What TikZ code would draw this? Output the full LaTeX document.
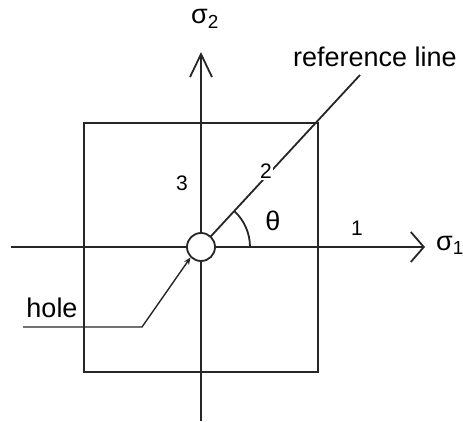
\documentclass[tikz,border=0pt]{standalone}
\usepackage{fontspec}
\setmainfont{Liberation Sans}
\usetikzlibrary{arrows.meta}
\begin{document}
\begin{tikzpicture}[x=1pt,y=1pt,
  ln/.style={draw=black!85, line width=1.8pt},
  lbl/.style={font=\fontsize{27}{30}\selectfont, anchor=base, inner sep=0pt},
  num/.style={font=\fontsize{21}{24}\selectfont, anchor=base, inner sep=1pt, fill=white},
  holec/.style={circle, draw=black!85, line width=1.8pt, fill=white, minimum size=28pt, inner sep=0pt}]
\useasboundingbox (0,0) rectangle (463,421);
\coordinate (ctr) at (201,174);
\coordinate (xl) at (11,174);
\coordinate (xr) at (425,174);
\coordinate (yb) at (201,0);
\coordinate (yt) at (201,369);
\coordinate (refend) at (360,346);
\draw[ln] (84,49) rectangle (318,298);
\draw[ln, -{Straight Barb[length=13pt,width=30pt,line width=1.8pt]}] (xl) -- (xr);
\draw[ln, -{Straight Barb[length=23pt,width=22pt,line width=1.8pt]}] (yb) -- (yt);
\draw[ln] (ctr) -- (refend);
\draw[ln] ([shift={(0:49)}]ctr) arc[start angle=0, end angle=47, radius=49];
\node[holec] (hc) at (ctr) {};
\node[num] (n2) at (266,242) {2};
\node[num] (n3) at (182,230) {3};
\node[num] (n1) at (357,186) {1};
\node[lbl] (th) at (273,191) {θ};
\node[lbl] (s2) at (205,397) {σ\textsubscript{2}};
\node[lbl] (s1) at (450,171) {σ\textsubscript{1}};
\node[lbl] (rl) at (375,354) {reference line};
\node[lbl] (hl) at (52,104) {hole};
\coordinate (h0) at (23,94);
\coordinate (h1) at (142,94);
\draw[ln, line width=1.4pt, -{Stealth[length=7pt,width=6pt]}] (h0) -- (h1) -- (hc.225);
\end{tikzpicture}
\end{document}
